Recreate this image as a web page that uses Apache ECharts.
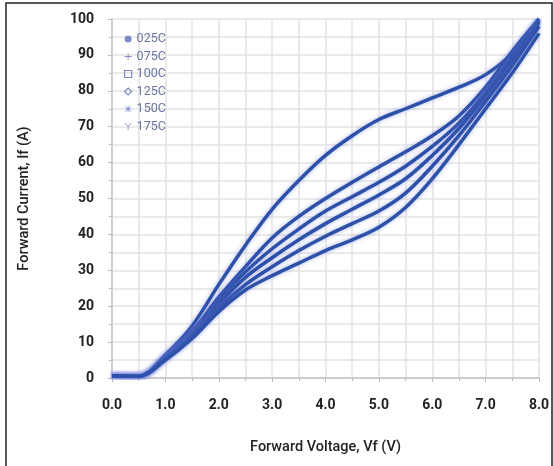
<!DOCTYPE html>
<html>
<head>
<meta charset="utf-8">
<script src="https://cdn.jsdelivr.net/npm/echarts@6/dist/echarts.min.js"></script>
<style>
  html, body { margin: 0; padding: 0; background: #fff; }
  #chart { width: 553px; height: 466px; }
</style>
</head>
<body>
<div id="chart"></div>
<script>
// forward voltage (V)
var vf = [0, 0.5, 1.0, 1.5, 2.0, 2.5, 3.0, 3.5, 4.0, 4.5, 5.0, 5.5, 6.0, 6.5, 7.0, 7.5, 8.0];

// forward current (A) per temperature
var if025 = [0.6, 0.5, 6.5, 14.5, 26, 37, 47, 55, 62, 67.5, 72, 75, 78, 81, 84.5, 90.5, 100];
var if075 = [0.6, 0.5, 6, 13, 22.5, 31, 39, 45, 50, 54.5, 58.8, 63, 67.5, 73, 81, 91, 100];
var if100 = [0.6, 0.5, 6, 12.5, 21.5, 29.5, 36, 41.5, 46.5, 50.5, 54.5, 59, 64.5, 71, 79.5, 89.5, 99.5];
var if125 = [0.6, 0.5, 5.5, 12, 20.5, 28, 33.5, 38.5, 43, 47, 51, 55.5, 62, 69.5, 78.5, 88.5, 99];
var if150 = [0.6, 0.5, 5.5, 11.5, 19.5, 26, 31, 35.5, 39.5, 43, 46.5, 51.5, 59, 67.5, 77, 87, 98];
var if175 = [0.6, 0.5, 5, 11, 18.5, 24.5, 28.5, 32, 35.5, 38.5, 42, 47.5, 55.5, 65, 75, 85, 96];

var names = ['025C', '075C', '100C', '125C', '150C', '175C'];
var curves = [if025, if075, if100, if125, if150, if175];

var lineColor = '#2d50a8';
var markColor = '#7f8ac6';

var icons = [
  'circle',
  'path://M4.4,0h1.2v4.4h4.4v1.2h-4.4v4.4h-1.2v-4.4h-4.4v-1.2h4.4z',
  'rect',
  'diamond',
  'path://M4.5,0h1v10h-1z M0,4.5h10v1h-10z M1,1.7L1.7,1L9,8.3L8.3,9z M8.3,1L9,1.7L1.7,9L1,8.3z',
  'path://M0,0.7L0.7,0L5,4.3L9.3,0L10,0.7L5.6,5.1L5.6,10L4.4,10L4.4,5.1z'
];
var hollow = [false, false, true, true, false, false];

var legendData = names.map(function (n, i) {
  return {
    name: n,
    icon: icons[i],
    itemStyle: hollow[i]
      ? { color: 'rgba(0,0,0,0)', borderColor: markColor, borderWidth: 1.2 }
      : { color: markColor, borderWidth: 0 }
  };
});

var series = names.map(function (n, i) {
  return {
    name: n,
    type: 'line',
    smooth: 0.35,
    showSymbol: false,
    symbol: 'none',
    data: vf.map(function (x, k) { return [x, curves[i][k]]; }),
    lineStyle: {
      color: lineColor,
      width: 3.5,
      shadowBlur: 4,
      shadowColor: 'rgba(110,125,220,0.6)'
    },
    itemStyle: { color: lineColor },
    emphasis: { disabled: true }
  };
});

var chart = echarts.init(document.getElementById('chart'));
chart.setOption({
  animation: false,
  textStyle: { fontFamily: 'Roboto' },
  graphic: [{
    type: 'rect',
    shape: { x: 6, y: 3, width: 546, height: 480 },
    style: { fill: 'none', stroke: '#222', lineWidth: 1.5 }
  }],
  grid: { left: 112, right: 14, top: 19, bottom: 88 },
  legend: {
    orient: 'vertical',
    left: 119,
    top: 27,
    itemWidth: 7,
    itemHeight: 7,
    itemGap: 3.5,
    textStyle: { color: '#68749f', fontSize: 12.5, lineHeight: 14, fontFamily: 'Roboto' },
    data: legendData
  },
  xAxis: {
    type: 'value',
    min: 0,
    max: 8,
    interval: 1,
    name: 'Forward Voltage, Vf (V)',
    nameLocation: 'middle',
    nameGap: 62,
    nameTextStyle: { color: '#222', fontSize: 14.5, fontWeight: 500 },
    axisLine: { show: true, lineStyle: { color: '#c4c4c4', width: 1.5 } },
    axisTick: { show: true, length: 4, lineStyle: { color: '#bbb' } },
    minorTick: { show: true, splitNumber: 2, length: 3, lineStyle: { color: '#bbb' } },
    splitLine: { show: true, lineStyle: { color: '#e3e3e3', width: 1.5 } },
    minorSplitLine: { show: true, lineStyle: { color: '#e3e3e3', width: 1.5 } },
    axisLabel: {
      margin: 20,
      color: '#222',
      fontSize: 14,
      fontWeight: 'bold',
      formatter: function (v) { return v.toFixed(1); }
    }
  },
  yAxis: {
    type: 'value',
    min: 0,
    max: 100,
    interval: 10,
    name: 'Forward Current, If (A)',
    nameLocation: 'middle',
    nameGap: 80,
    nameTextStyle: { color: '#222', fontSize: 14.5, fontWeight: 500 },
    axisLine: { show: true, lineStyle: { color: '#c4c4c4', width: 1.5 } },
    axisTick: { show: true, length: 4, lineStyle: { color: '#bbb' } },
    minorTick: { show: true, splitNumber: 2, length: 3, lineStyle: { color: '#bbb' } },
    splitLine: { show: true, lineStyle: { color: '#e3e3e3', width: 1.5 } },
    minorSplitLine: { show: true, lineStyle: { color: '#e3e3e3', width: 1.5 } },
    axisLabel: { margin: 18, color: '#222', fontSize: 14, fontWeight: 'bold' }
  },
  series: series
});
</script>
</body>
</html>
